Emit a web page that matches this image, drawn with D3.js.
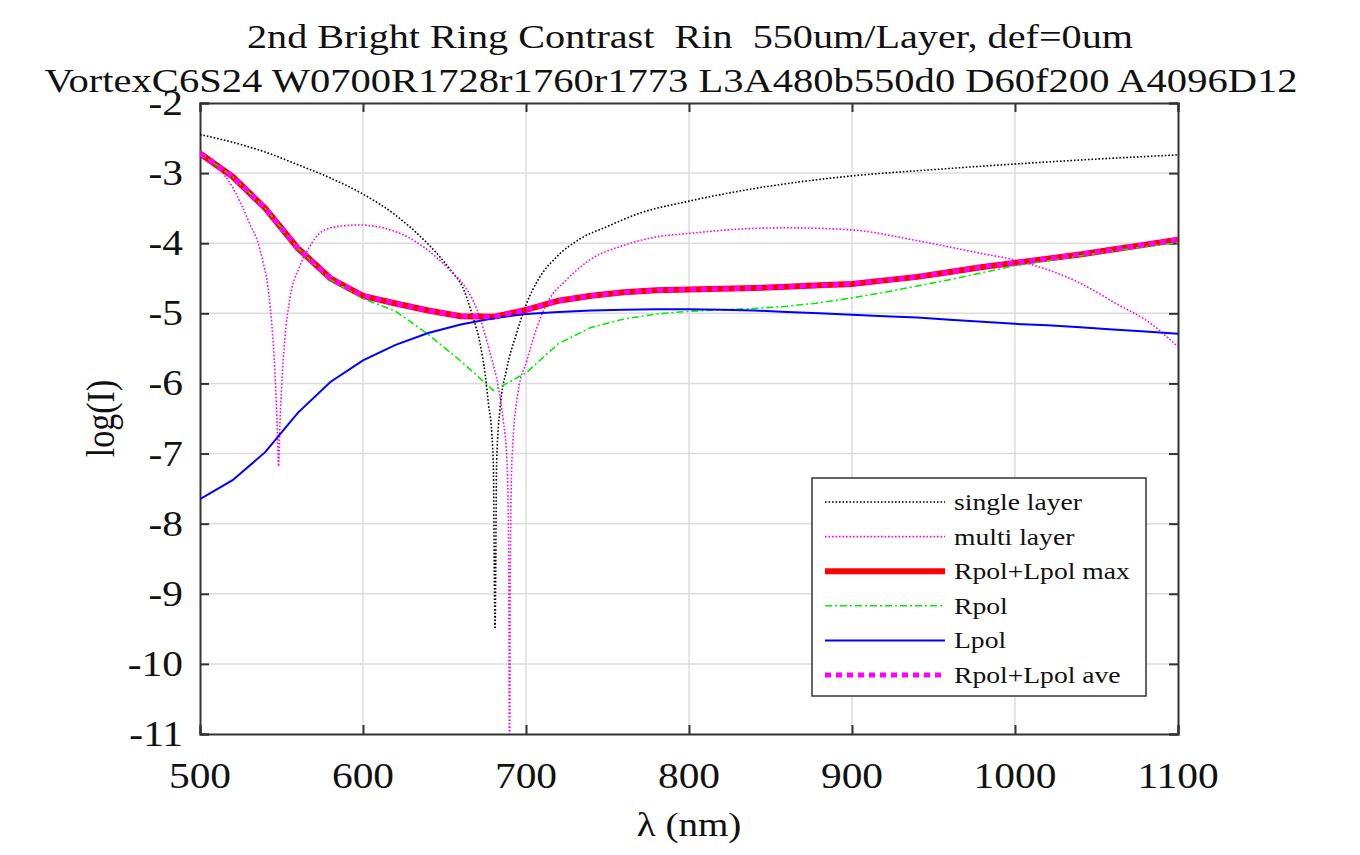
<!DOCTYPE html>
<html>
<head>
<meta charset="utf-8">
<script src="https://cdn.jsdelivr.net/npm/d3@7"></script>
<style>
  body { margin: 0; background: #fff; }
  text { font-family: "Liberation Serif", "Times New Roman", serif; fill: #111; white-space: pre; }
</style>
</head>
<body>
<div class="graphic"></div>
<script>
// wavelength grid (nm) for the polarisation curves
let wl = [500, 520, 540, 560, 580, 600, 620, 640, 660, 680, 700, 720, 740, 760, 780, 800,
          820, 840, 860, 880, 900, 920, 940, 960, 980, 1000, 1020, 1040, 1060, 1080, 1100];

let rlMax = [-2.72, -3.05, -3.50, -4.07, -4.50, -4.75, -4.86, -4.96, -5.04, -5.05, -4.95,
             -4.82, -4.75, -4.70, -4.67, -4.66, -4.65, -4.64, -4.62, -4.60, -4.58, -4.53,
             -4.48, -4.41, -4.34, -4.28, -4.22, -4.16, -4.09, -4.02, -3.95];
let rpol = [-2.72, -3.05, -3.50, -4.07, -4.52, -4.79, -4.97, -5.30, -5.68, -6.10, -5.85,
            -5.43, -5.20, -5.08, -5.01, -4.97, -4.95, -4.93, -4.90, -4.85, -4.78, -4.70,
            -4.61, -4.52, -4.42, -4.32, -4.25, -4.18, -4.11, -4.05, -3.99];
let lpol = [-7.65, -7.38, -6.98, -6.42, -5.98, -5.67, -5.45, -5.28, -5.16, -5.07, -5.01,
            -4.98, -4.96, -4.95, -4.94, -4.94, -4.95, -4.96, -4.98, -5.00, -5.02, -5.04,
            -5.06, -5.09, -5.12, -5.15, -5.17, -5.20, -5.23, -5.26, -5.29];
let rlAve = [-2.72, -3.05, -3.50, -4.07, -4.50, -4.75, -4.86, -4.96, -5.04, -5.05, -4.95,
             -4.82, -4.75, -4.70, -4.67, -4.66, -4.65, -4.64, -4.62, -4.60, -4.58, -4.53,
             -4.48, -4.41, -4.34, -4.28, -4.22, -4.16, -4.09, -4.02, -3.95];

// single layer (finer sampling near the dip)
let singleWl = [500, 520, 540, 560, 580, 600, 620, 635, 647, 655, 661, 667, 672, 675, 677,
                679, 680, 681, 682, 684, 688, 694, 700, 708, 719, 733, 750, 770, 800, 830,
                860, 900, 950, 1000, 1050, 1100];
let singleVal = [-2.45, -2.56, -2.70, -2.88, -3.07, -3.30, -3.60, -3.90, -4.19, -4.42, -4.62,
                 -5.02, -5.45, -5.88, -6.30, -6.71, -7.20, -9.50, -7.10, -6.38, -5.81, -5.30,
                 -4.88, -4.50, -4.19, -3.94, -3.76, -3.57, -3.40, -3.26, -3.15, -3.04, -2.95,
                 -2.87, -2.80, -2.74];

// multi layer
let multiWl = [500, 505, 510, 514, 520, 526, 531, 535, 539, 541, 544, 546, 547.5, 548.2, 549,
               550, 552, 555, 561, 566, 575, 585, 598, 610, 617, 637, 653, 664, 670, 678, 683,
               686, 688.3, 689.3, 689.9, 690.5, 691.4, 695, 700.6, 706.7, 713, 725, 739, 760,
               780, 800, 830, 860, 900, 937, 978, 1000, 1040, 1062, 1083, 1100];
let multiVal = [-2.69, -2.76, -2.86, -3.00, -3.20, -3.48, -3.75, -3.95, -4.30, -4.52, -5.14,
                -5.85, -6.70, -7.18, -6.60, -6.09, -5.38, -4.81, -4.34, -4.10, -3.83, -3.76,
                -3.74, -3.77, -3.81, -4.05, -4.38, -4.67, -4.95, -5.57, -6.05, -6.52, -7.09,
                -8.30, -11.6, -8.30, -7.09, -6.14, -5.67, -5.20, -4.85, -4.52, -4.24, -4.03,
                -3.91, -3.86, -3.80, -3.78, -3.81, -3.95, -4.14, -4.24, -4.57, -4.86, -5.14,
                -5.48];

let xTicks = [500, 600, 700, 800, 900, 1000, 1100];
let yTicks = [-2, -3, -4, -5, -6, -7, -8, -9, -10, -11];

let legendNames = ["single layer", "multi layer", "Rpol+Lpol max", "Rpol", "Lpol", "Rpol+Lpol ave"];

let titleLines = ["2nd Bright Ring Contrast  Rin  550um/Layer, def=0um",
                  "VortexC6S24 W0700R1728r1760r1773 L3A480b550d0 D60f200 A4096D12"];

let SX = 1.15;   // picture is a bit wider than tall, stretch text the same way

let svg = d3.select(".graphic")
            .append("svg")
            .attr("width", 1360)
            .attr("height", 855);

let pLeft = 200, pRight = 1178, pTop = 103, pBottom = 734;

let x = d3.scaleLinear().domain([500, 1100]).range([pLeft, pRight]);
let y = d3.scaleLinear().domain([-11, -2]).range([pBottom, pTop]);

function stretchedText(g, tx, ty, str, size, anchor) {
    return g.append("text")
        .attr("transform", "translate(" + tx + "," + ty + ") scale(" + SX + ",1)")
        .attr("text-anchor", anchor)
        .style("font-size", size + "px")
        .text(str);
}

// grid
let grid = svg.append("g");
grid.selectAll(".gx").data(xTicks.slice(1, -1)).enter().append("line")
    .attr("x1", d => x(d)).attr("x2", d => x(d))
    .attr("y1", pTop).attr("y2", pBottom)
    .attr("stroke", "#dcdcdc").attr("stroke-width", 1.5);
grid.selectAll(".gy").data(yTicks.slice(1, -1)).enter().append("line")
    .attr("x1", pLeft).attr("x2", pRight)
    .attr("y1", d => y(d)).attr("y2", d => y(d))
    .attr("stroke", "#dcdcdc").attr("stroke-width", 1.5);

// axes with inward ticks on all four sides
let axB = svg.append("g").attr("transform", "translate(0," + pBottom + ")")
    .call(d3.axisBottom(x).tickValues(xTicks).tickSize(-9).tickFormat(""));
let axT = svg.append("g").attr("transform", "translate(0," + pTop + ")")
    .call(d3.axisTop(x).tickValues(xTicks).tickSize(-9).tickFormat(""));
let axL = svg.append("g").attr("transform", "translate(" + pLeft + ",0)")
    .call(d3.axisLeft(y).tickValues(yTicks).tickSize(-9).tickFormat(""));
let axR = svg.append("g").attr("transform", "translate(" + pRight + ",0)")
    .call(d3.axisRight(y).tickValues(yTicks).tickSize(-9).tickFormat(""));
[axB, axT, axL, axR].forEach(a => {
    a.selectAll("path").attr("stroke", "#333").attr("stroke-width", 2);
    a.selectAll("line").attr("stroke", "#333").attr("stroke-width", 2);
});

// tick labels
let labels = svg.append("g");
xTicks.forEach(t => stretchedText(labels, x(t), 788, String(t), 36, "middle"));
yTicks.forEach(t => stretchedText(labels, 183, y(t) + 12, String(t), 36, "end"));

// axis titles
stretchedText(svg, (pLeft + pRight) / 2, 836, "λ (nm)", 34, "middle");
svg.append("text")
    .attr("transform", "translate(114," + ((pTop + pBottom) / 2) + ") rotate(-90) scale(1," + SX + ")")
    .attr("text-anchor", "middle")
    .style("font-size", "34px")
    .text("log(I)");

// title
svg.append("text").attr("x", 690).attr("y", 48).attr("text-anchor", "middle")
    .attr("textLength", 886).attr("lengthAdjust", "spacingAndGlyphs")
    .style("font-size", "33px").text(titleLines[0]);
svg.append("text").attr("x", 671).attr("y", 92).attr("text-anchor", "middle")
    .attr("textLength", 1253).attr("lengthAdjust", "spacingAndGlyphs")
    .style("font-size", "33px").text(titleLines[1]);

// curves
svg.append("clipPath").attr("id", "plotclip").append("rect")
    .attr("x", pLeft).attr("y", pTop).attr("width", pRight - pLeft).attr("height", pBottom - pTop);
let plot = svg.append("g").attr("clip-path", "url(#plotclip)");

let lineLin = d3.line().x(d => x(d[0])).y(d => y(d[1]));
let lineSmooth = d3.line().x(d => x(d[0])).y(d => y(d[1])).curve(d3.curveMonotoneX);

let styles = [
    { stroke: "#000000", width: 1.6, dash: "1.6,1.9" },
    { stroke: "#ff00ff", width: 1.6, dash: "1.6,1.9" },
    { stroke: "#ff0000", width: 6, dash: null },
    { stroke: "#00ee00", width: 1.6, dash: "7,3,2,3" },
    { stroke: "#0000ff", width: 2, dash: null },
    { stroke: "#ff00ff", width: 5, dash: "6,5" }
];

let series = [
    { pts: d3.zip(singleWl, singleVal), gen: lineSmooth },
    { pts: d3.zip(multiWl, multiVal), gen: lineSmooth },
    { pts: d3.zip(wl, rlMax), gen: lineLin },
    { pts: d3.zip(wl, rpol), gen: lineLin },
    { pts: d3.zip(wl, lpol), gen: lineLin },
    { pts: d3.zip(wl, rlAve), gen: lineLin }
];

series.forEach((s, i) => {
    plot.append("path")
        .attr("d", s.gen(s.pts))
        .attr("fill", "none")
        .attr("stroke", styles[i].stroke)
        .attr("stroke-width", styles[i].width)
        .attr("stroke-dasharray", styles[i].dash);
});

// legend
let leg = svg.append("g");
leg.append("rect").attr("x", 812).attr("y", 478).attr("width", 334).attr("height", 218)
    .attr("fill", "#fff").attr("stroke", "#333").attr("stroke-width", 1.5);
legendNames.forEach((name, i) => {
    let cy = 502 + i * 34.6;
    leg.append("line")
        .attr("x1", 825).attr("x2", 945).attr("y1", cy).attr("y2", cy)
        .attr("stroke", styles[i].stroke)
        .attr("stroke-width", styles[i].width)
        .attr("stroke-dasharray", styles[i].dash);
    stretchedText(leg, 954, cy + 8, name, 24, "start");
});
</script>
</body>
</html>
